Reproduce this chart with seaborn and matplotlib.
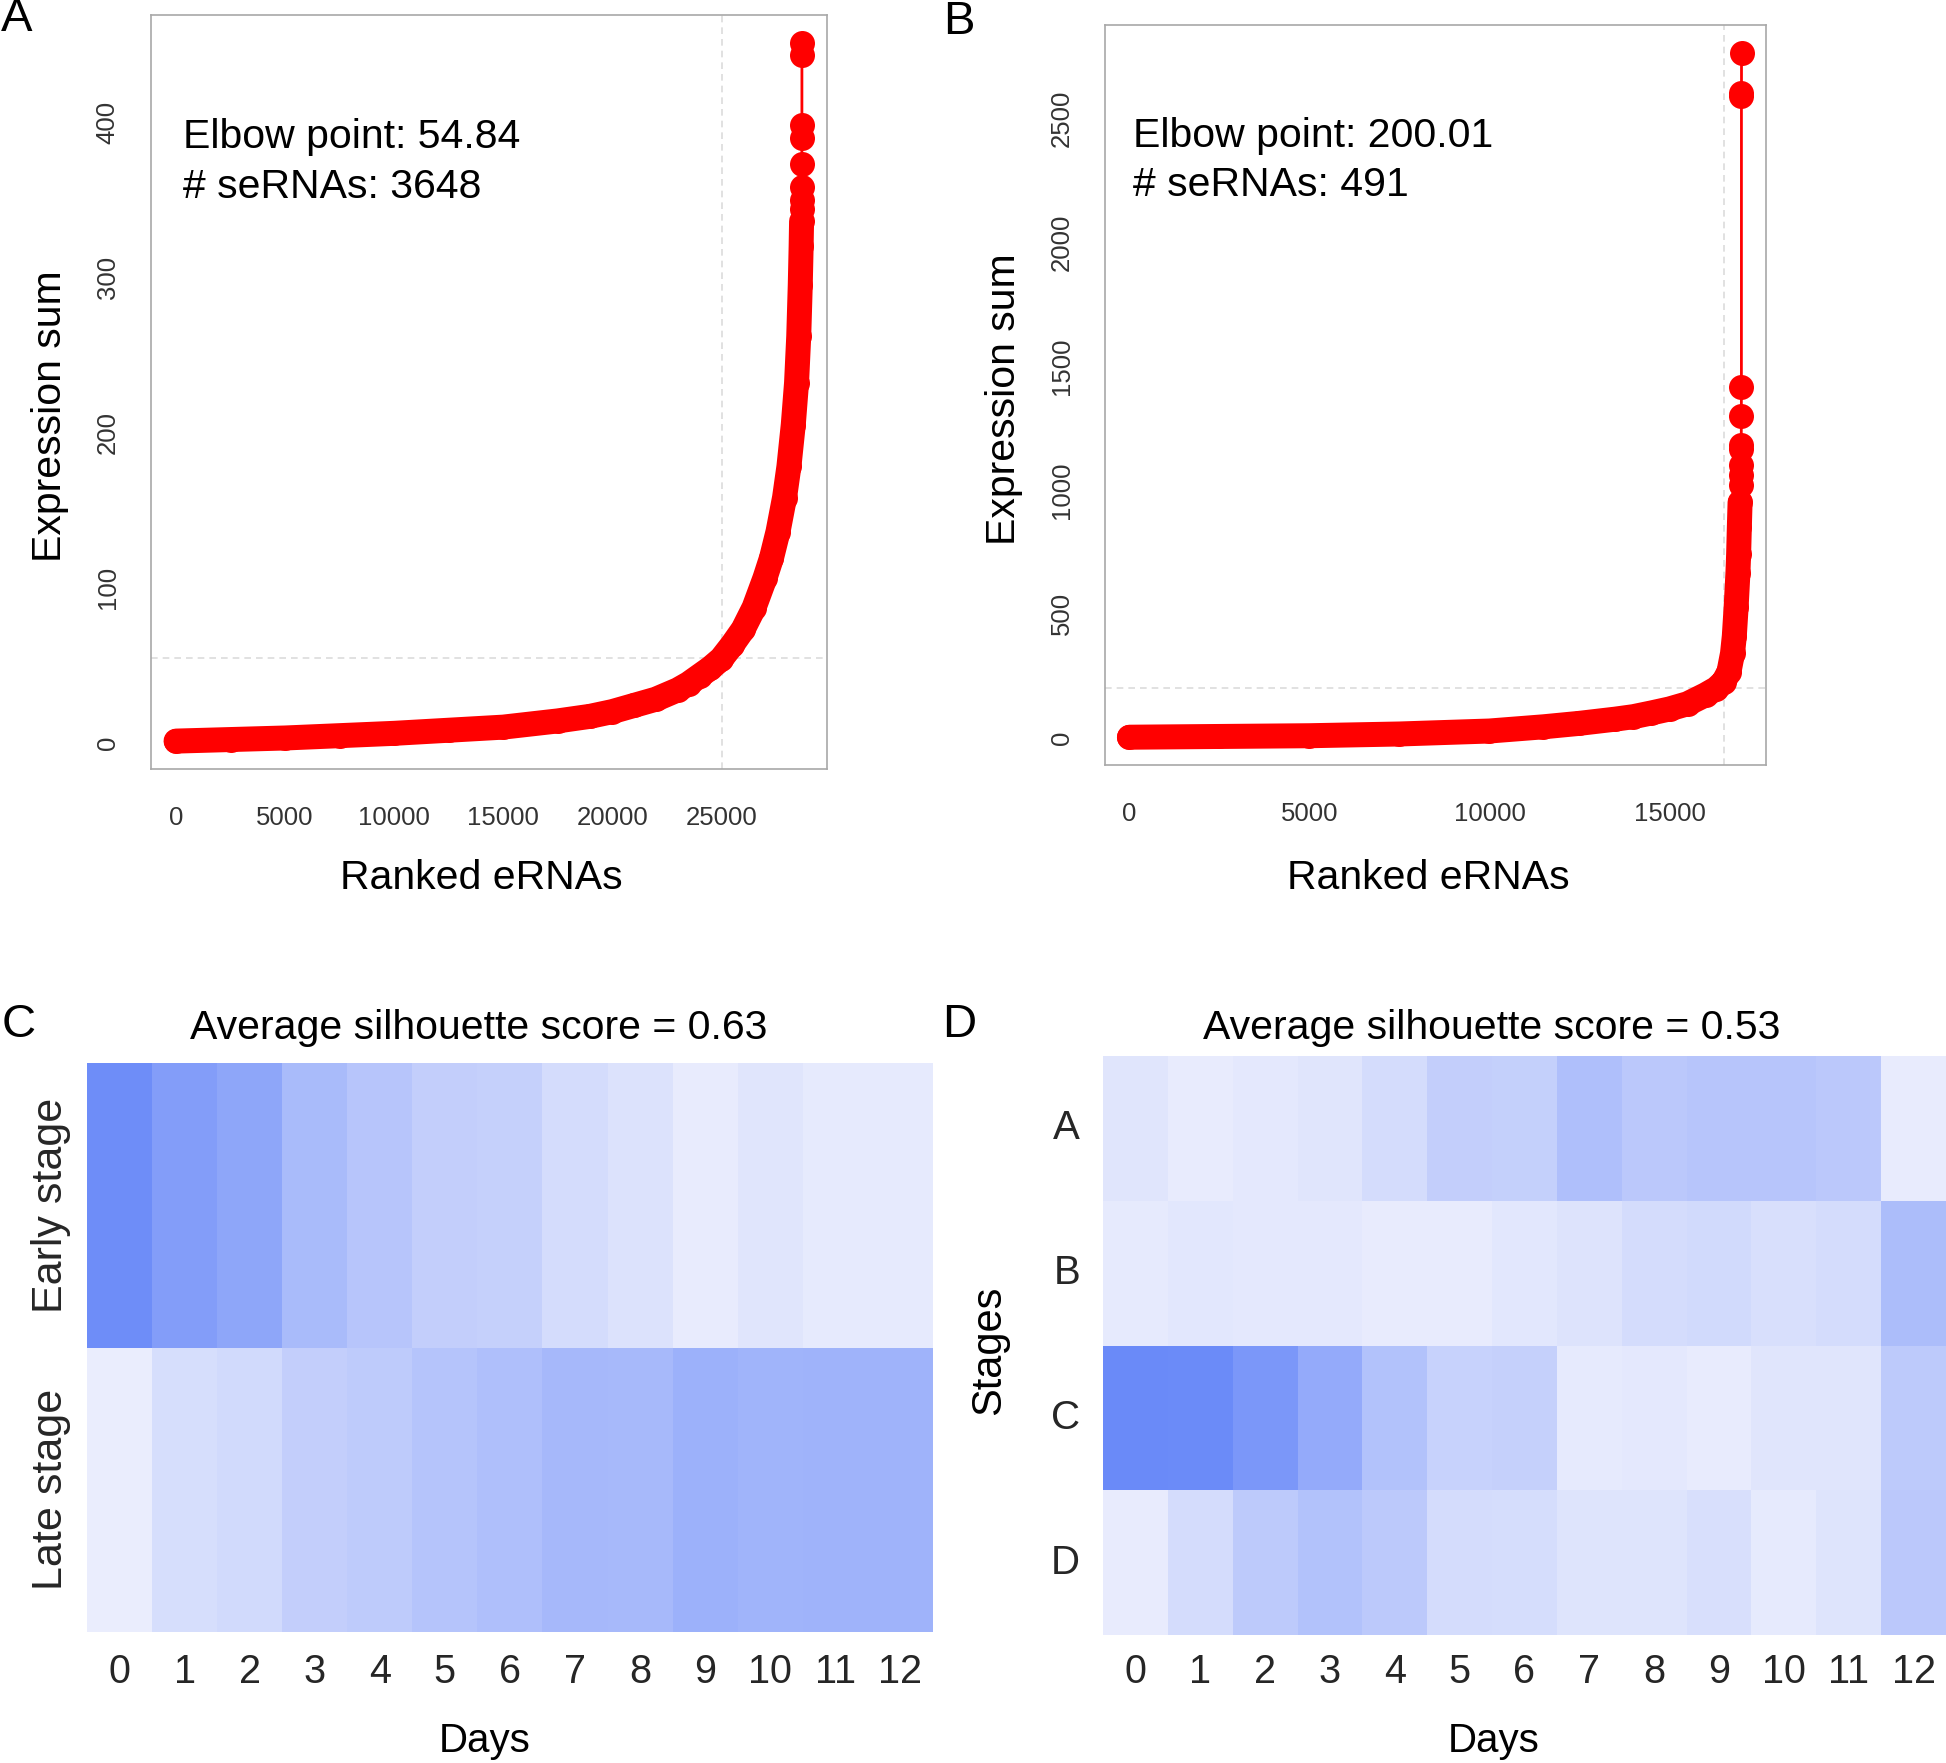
import matplotlib
matplotlib.use('Agg')
import matplotlib.pyplot as plt
import seaborn as sns
from matplotlib.colors import LinearSegmentedColormap

# ---- data ----
# Panel A: ranked eRNAs vs expression sum (knots along the dense band, then the sparse tail)
rank_a = [0, 2500, 5000, 7500, 10000, 12500, 15000, 17500, 19000, 20000, 21000, 22000,
          23000, 23500, 24000, 24500, 25000, 25500, 26000, 26500, 27000, 27300, 27600,
          27900, 28100, 28300, 28450, 28550, 28620, 28660, 28680,
          28690, 28691, 28692, 28693, 28694, 28695, 28696, 28697]
expr_a = [1, 2, 3, 4.5, 6, 8, 10, 14, 17, 20, 24, 28,
          34, 38, 43, 48, 54, 63, 73, 87, 106, 119, 136,
          158, 178, 205, 232, 262, 295, 320, 336,
          344, 350, 358, 373, 390, 398, 443, 451]
dense_a = 31
total_a = 28700
serna_a = 3648
elbow_a = 54.84

# Panel B
rank_b = [0, 2500, 5000, 7500, 10000, 11500, 12500, 13500, 14000, 14500, 15000, 15500,
          16000, 16300, 16500, 16650, 16750, 16800, 16850, 16900, 16920, 16940, 16960,
          16985, 16987, 16989, 16991, 16993, 16995, 16997, 16998, 16999, 17000]
expr_b = [2, 5, 8, 15, 27, 44, 58, 75, 85, 100, 116, 137,
          173, 198, 225, 265, 340, 410, 526, 664, 740, 850, 950,
          1020, 1060, 1100, 1165, 1180, 1297, 1415, 2589, 2600, 2765]
dense_b = 23
total_b = 17000
serna_b = 491
elbow_b = 200.01

# Panels C and D: heatmap intensities (0 = lightest, 1 = darkest)
days = [str(d) for d in range(13)]
early_stage = [0.97, 0.81, 0.73, 0.52, 0.42, 0.33, 0.31, 0.20, 0.14, 0.05, 0.11, 0.06, 0.06]
late_stage = [0.03, 0.18, 0.22, 0.33, 0.36, 0.43, 0.48, 0.55, 0.54, 0.62, 0.59, 0.60, 0.60]
stage_a = [0.11, 0.05, 0.08, 0.11, 0.20, 0.33, 0.32, 0.48, 0.39, 0.42, 0.42, 0.39, 0.05]
stage_b = [0.06, 0.09, 0.08, 0.08, 0.05, 0.05, 0.09, 0.13, 0.20, 0.22, 0.17, 0.20, 0.50]
stage_c = [1.00, 0.99, 0.87, 0.68, 0.45, 0.30, 0.31, 0.06, 0.08, 0.05, 0.11, 0.11, 0.37]
stage_d = [0.05, 0.20, 0.37, 0.45, 0.38, 0.20, 0.19, 0.12, 0.12, 0.17, 0.06, 0.12, 0.39]

sns.set_style('white')
plt.rcParams['font.family'] = ['Liberation Sans', 'DejaVu Sans']
plt.rcParams['text.color'] = 'black'
plt.rcParams['axes.labelcolor'] = 'black'

fig = plt.figure(figsize=(19.46, 17.63), dpi=100)


def elbow_panel(ax, ranks, values, n_dense, elbow_x, elbow_y, xticks, yticks, xlim, ylim, text, tx, ty):
    ax.axhline(elbow_y, color='#dcdcdc', lw=1.2, ls=(0, (4, 3)), zorder=1)
    ax.axvline(elbow_x, color='#dcdcdc', lw=1.2, ls=(0, (4, 3)), zorder=1)
    # dense band of overlapping points
    sns.lineplot(x=ranks[:n_dense], y=values[:n_dense], ax=ax, color='#ff0000',
                 linewidth=18, solid_capstyle='round', solid_joinstyle='round',
                 estimator=None, sort=False, zorder=3)
    sns.lineplot(x=ranks, y=values, ax=ax, color='#ff0000', linewidth=2, marker='o',
                 markersize=18, markeredgewidth=0, estimator=None, sort=False, zorder=4)
    ax.set_xlim(xlim)
    ax.set_ylim(ylim)
    ax.set_xticks(xticks, [str(t) for t in xticks])
    ax.set_yticks(yticks, [str(t) for t in yticks])
    for lab in ax.get_yticklabels():
        lab.set_rotation(90)
        lab.set_va('center')
    ax.tick_params(direction='out', length=11.5, width=1, color='#a0a0a0',
                   labelsize=18.5, labelcolor='#333333', pad=11)
    ax.tick_params(axis='x', pad=15)
    for s in ax.spines.values():
        s.set_color('#a8a8a8')
        s.set_linewidth(1.2)
    ax.text(tx, ty[0], text[0], transform=ax.transAxes, fontsize=29.5, va='center')
    ax.text(tx, ty[1], text[1], transform=ax.transAxes, fontsize=29.5, va='center')
    ax.set_xlabel('Ranked eRNAs', fontsize=29.5)
    ax.set_ylabel('Expression sum', fontsize=29.5)
    ax.xaxis.label.set_va('center')
    ax.yaxis.label.set_va('center')


ax_a = fig.add_axes([0.0776, 0.5638, 0.3474, 0.4277])
elbow_panel(ax_a, rank_a, expr_a, dense_a, total_a - serna_a, elbow_a,
            [0, 5000, 10000, 15000, 20000, 25000], [0, 100, 200, 300, 400],
            (-1148, 29848), (-17, 469),
            [f'Elbow point: {elbow_a}', f'# seRNAs: {serna_a}'], 0.047, (0.838, 0.772))
ax_a.xaxis.set_label_coords(0.488, -0.1446)
ax_a.yaxis.set_label_coords(-0.149, 0.468)

ax_b = fig.add_axes([0.5678, 0.5661, 0.3397, 0.4197])
elbow_panel(ax_b, rank_b, expr_b, dense_b, total_b - serna_b, elbow_b,
            [0, 5000, 10000, 15000], [0, 500, 1000, 1500, 2000, 2500],
            (-680, 17680), (-110, 2876),
            [f'Elbow point: {elbow_b}', f'# seRNAs: {serna_b}'], 0.042, (0.85, 0.784))
ax_b.xaxis.set_label_coords(0.489, -0.153)
ax_b.yaxis.set_label_coords(-0.153, 0.495)

cmap = LinearSegmentedColormap.from_list('lav', ['#eef0fd', '#6a8af8'])

# Panel C
ax_c = fig.add_axes([0.0447, 0.0743, 0.4347, 0.3227])
sns.heatmap([early_stage, late_stage], ax=ax_c, cmap=cmap, vmin=0, vmax=1, cbar=False,
            xticklabels=days, yticklabels=['Early stage', 'Late stage'])
ax_c.tick_params(length=0, labelsize=28.5)
ax_c.tick_params(axis='x', pad=15)
ax_c.tick_params(axis='y', pad=11.5, labelsize=31)
for lab in ax_c.get_yticklabels():
    lab.set_rotation(90)
    lab.set_va('center')
for lab in ax_c.get_xticklabels():
    lab.set_rotation(0)
ax_c.set_title('Average silhouette score = 0.63', fontsize=29.5, x=0.463, pad=17)
ax_c.set_xlabel('Days', fontsize=29)
ax_c.xaxis.set_label_coords(0.470, -0.192)
ax_c.xaxis.label.set_va('center')

# Panel D
ax_d = fig.add_axes([0.5668, 0.0726, 0.4332, 0.3284])
sns.heatmap([stage_a, stage_b, stage_c, stage_d], ax=ax_d, cmap=cmap, vmin=0, vmax=1,
            cbar=False, xticklabels=days, yticklabels=['A', 'B', 'C', 'D'])
ax_d.tick_params(length=0, labelsize=28.5)
ax_d.tick_params(axis='x', pad=13)
ax_d.tick_params(axis='y', pad=16.5, labelsize=29)
for lab in ax_d.get_yticklabels():
    lab.set_rotation(0)
for lab in ax_d.get_xticklabels():
    lab.set_rotation(0)
ax_d.set_title('Average silhouette score = 0.53', fontsize=29.5, x=0.461, pad=12)
ax_d.set_xlabel('Days', fontsize=29)
ax_d.set_ylabel('Stages', fontsize=30)
ax_d.xaxis.set_label_coords(0.463, -0.183)
ax_d.yaxis.set_label_coords(-0.135, 0.492)
ax_d.xaxis.label.set_va('center')
ax_d.yaxis.label.set_va('center')

# panel letters
for letter, x, y in [('A', 17, 19), ('B', 959, 22), ('C', 19, 1025), ('D', 959, 1025)]:
    fig.text(x / 1946, 1 - y / 1763, letter, fontsize=34, ha='center', va='center')

fig.savefig('out.png', dpi=100)
